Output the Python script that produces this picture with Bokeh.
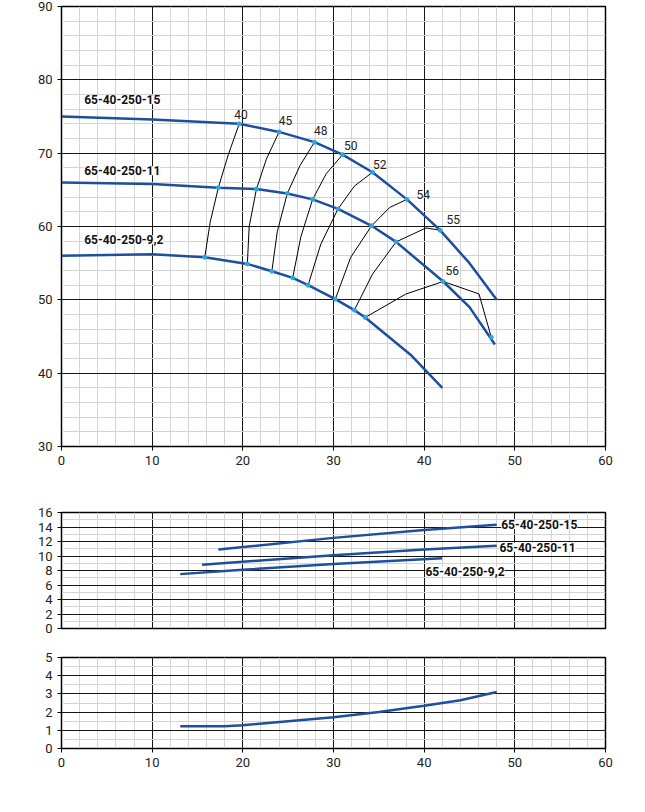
from bokeh.plotting import figure
from bokeh.models import Label, SingleIntervalTicker, Range1d
from bokeh.layouts import column
from bokeh.embed import file_html
from bokeh.resources import INLINE

# H-Q curves
q15 = [0, 10, 19.6, 24.0, 27.9, 31.0, 34.3, 38.1, 41.75, 45, 48]
h15 = [75, 74.6, 74.0, 72.9, 71.5, 69.8, 67.4, 63.7, 59.5, 55, 50]
q11 = [0, 10, 17.3, 21.5, 24.9, 27.7, 30.5, 34.2, 36.9, 42.1, 45, 47.8]
h11 = [66, 65.8, 65.3, 65.1, 64.5, 63.7, 62.4, 60.1, 57.9, 52.5, 49, 43.9]
q92 = [0, 10, 15.8, 20.5, 23.2, 25.5, 27.2, 30.2, 32.3, 33.5, 38.6, 42]
h92 = [56, 56.2, 55.8, 54.9, 53.9, 53.0, 52.0, 50.1, 48.6, 47.6, 42.4, 38]
# efficiency iso-lines
eta_labels = ["40", "45", "48", "50", "52", "54", "55", "56"]
eta_q = [[15.8, 16.4, 17.3, 18.4, 19.6],
         [20.5, 20.7, 21.5, 22.6, 24.0],
         [23.2, 23.8, 24.9, 26.3, 27.9],
         [25.5, 26.4, 27.7, 29.2, 31.0],
         [27.2, 28.6, 30.5, 32.3, 34.3],
         [30.2, 31.9, 34.2, 36.2, 38.1],
         [32.3, 34.3, 36.9, 40.2, 41.75],
         [33.5, 38.0, 42.1, 46.05, 47.4]]
eta_h = [[55.8, 60.6, 65.3, 69.8, 74.0],
         [54.9, 60.0, 65.1, 69.2, 72.9],
         [53.9, 59.3, 64.5, 68.3, 71.5],
         [53.0, 58.6, 63.7, 67.2, 69.8],
         [52.0, 57.6, 62.4, 65.5, 67.4],
         [50.1, 55.8, 60.1, 62.6, 63.7],
         [48.6, 53.5, 57.9, 59.8, 59.5],
         [47.6, 50.8, 52.5, 50.8, 44.9]]
eta_lx = [19.8, 24.7, 28.6, 31.9, 35.1, 39.9, 43.2, 43.1]
eta_ly = [75.3, 74.5, 73.1, 71.0, 68.5, 64.4, 61.0, 54.0]
# P2
pq15 = [17.3, 30, 40, 48]; p15 = [10.9, 12.5, 13.6, 14.3]
pq11 = [15.5, 30, 40, 48]; p11 = [8.8, 10.1, 10.9, 11.4]
pq92 = [13.1, 20, 30, 42]; p92 = [7.5, 8.1, 8.9, 9.7]
# NPSH
nq = [13.1, 18, 20, 25, 30, 35, 40, 44, 48]
nh = [1.22, 1.22, 1.28, 1.5, 1.72, 2.0, 2.35, 2.65, 3.1]

BLUE = "#1d4f9e"
DOT = "#2aa7df"
FONT = "Roboto"

def base(fh, ylo, yhi, yint, yminor, top, bottom, xlabels=True):
    p = figure(frame_width=544, frame_height=fh, output_backend="svg",
               toolbar_location=None, x_range=Range1d(0, 60),
               y_range=Range1d(ylo, yhi), min_border_left=61,
               min_border_right=24, min_border_top=top, min_border_bottom=bottom)
    p.xaxis.ticker = SingleIntervalTicker(interval=10, num_minor_ticks=5)
    p.yaxis.ticker = SingleIntervalTicker(interval=yint, num_minor_ticks=yminor)
    for g in (p.xgrid, p.ygrid):
        g.grid_line_color = "black"
        g.grid_line_alpha = 0.9
        g.minor_grid_line_color = "#d4d4d4"
    p.outline_line_color = "black"
    p.outline_line_width = 1.5
    for ax in (p.xaxis, p.yaxis):
        ax.major_label_text_font = FONT
        ax.major_label_text_font_size = "13px"
        ax.major_label_text_color = "#222222"
        ax.axis_line_color = "black"
        ax.major_tick_line_color = "black"
        ax.minor_tick_line_color = None
        ax.major_tick_in = 0
        ax.major_tick_out = 4
    if not xlabels:
        p.xaxis.major_label_text_font_size = "0px"
        p.xaxis.major_tick_out = 0
    return p

def side_label(p, text, y):
    p.add_layout(Label(x=0, y=y, x_offset=-48, text=text, text_align="center",
                       text_baseline="top", text_font=FONT, text_font_size="11px",
                       text_color="#333333"))

def q_label(p, y):
    p.add_layout(Label(x=60, y=y, x_offset=8, y_offset=-30, text="Q [м³/ч]",
                       text_align="right", text_baseline="top", text_font=FONT,
                       text_font_size="10px", text_color="#333333"))

# main
p1 = base(440, 30, 90, 10, 5, 6, 42)
for xs, ys in zip(eta_q, eta_h):
    p1.line(xs, ys, line_color="black", line_width=1)
for xs, ys in ((q15, h15), (q11, h11), (q92, h92)):
    p1.line(xs, ys, line_color=BLUE, line_width=2.5)
dx = [pts[i] for pts in eta_q for i in (0, 2, 4)]
dy = [pts[i] for pts in eta_h for i in (0, 2, 4)]
p1.scatter(dx, dy, size=4, color=DOT)
for t, x, y in zip(eta_labels, eta_lx, eta_ly):
    p1.add_layout(Label(x=x, y=y, text=t, text_align="center", text_baseline="middle",
                        text_font=FONT, text_font_size="12px", text_color="#222222"))
for t, y in (("65-40-250-15", 77.3), ("65-40-250-11", 67.6), ("65-40-250-9,2", 58.2)):
    p1.add_layout(Label(x=2.5, y=y, text=t, text_baseline="middle", text_font=FONT,
                        text_font_size="12px", text_font_style="bold",
                        text_color="#111111", background_fill_color="white"))
side_label(p1, "H\n[м]", 90)
q_label(p1, 30)

# P2
p2 = base(116, 0, 16, 2, 2, 24, 10, xlabels=False)
for xs, ys in ((pq15, p15), (pq11, p11), (pq92, p92)):
    p2.line(xs, ys, line_color=BLUE, line_width=2.5)
for t, x, y, al in (("65-40-250-15", 48.5, 14.3, "left"), ("65-40-250-11", 48.3, 11.2, "left"),
                    ("65-40-250-9,2", 44.5, 7.9, "center")):
    p2.add_layout(Label(x=x, y=y, text=t, text_align=al, text_baseline="middle",
                        text_font=FONT, text_font_size="12px", text_font_style="bold",
                        text_color="#111111", background_fill_color="white"))
side_label(p2, "P₂\n[кВт]", 16)

# NPSH
p3 = base(91, 0, 5, 1, 2, 19, 45)
p3.line(nq, nh, line_color=BLUE, line_width=2.5)
side_label(p3, "NPSH\n[м]", 5)
q_label(p3, 0)

layout = column(p1, p2, p3, spacing=0)
open("out.html", "w").write(file_html(layout, INLINE))
